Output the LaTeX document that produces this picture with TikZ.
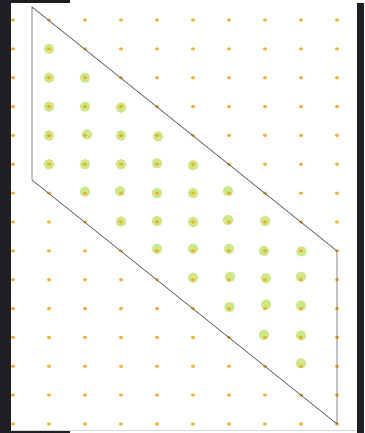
\documentclass[tikz,border=0pt]{standalone}
\usetikzlibrary{calc}
\definecolor{framedark}{RGB}{30,31,36}
\definecolor{dotorange}{RGB}{245,166,35}
\definecolor{ptgreen}{RGB}{200,230,125}
\definecolor{edgegray}{RGB}{85,85,85}
\begin{document}
\begin{tikzpicture}[x=1pt,y=-1pt,
  griddot/.style={fill=dotorange,draw=none,opacity=0.9},
  inpoint/.style={fill=ptgreen,draw=none,opacity=0.9},
  region/.style={draw=edgegray,line width=0.7pt,line join=miter},
  darkband/.style={fill=framedark,draw=none}]
\useasboundingbox (0,0) rectangle (364,433);
\fill[white] (0,0) rectangle (364,433);
% lattice points inside region
\foreach \i/\j/\dx/\dy in {
  1/1/0/0,
  1/2/0/0, 2/2/0/0,
  1/3/0/0, 2/3/0/0, 3/3/0/1,
  1/4/0/0, 2/4/2/-1, 3/4/0/0, 4/4/1/1,
  1/5/0/0, 2/5/0/0, 3/5/0/0, 4/5/0/-1, 5/5/0/1,
  2/6/0/-1.5, 3/6/-1/-2, 4/6/0/0, 5/6/0/0, 6/6/-1/-2,
  3/7/0/-0.5, 4/7/0/-1, 5/7/0/0, 6/7/-1/-2, 7/7/0/-1,
  4/8/0/-2, 5/8/0/-2, 6/8/0/-2, 7/8/-1/0, 8/8/0.5/0.5,
  5/9/0/-2, 6/9/1/-3, 7/9/1/-1.5, 8/9/0/-3,
  6/10/0.5/-1.5, 7/10/1/-4, 8/10/0/-3,
  7/11/-1/-2.5, 8/11/0/-2,
  8/12/0/-3}
  \fill[inpoint] ({13+36*\i+\dx},{20+404/14*\j+\dy}) circle (5.3);
% grid dots
\foreach \i in {0,...,9}
  \foreach \j in {0,...,14}
    \fill[griddot] ({13+36*\i},{20+404/14*\j}) ellipse (2 and 1.6);
% parallelogram
\coordinate (A) at (32,7);
\coordinate (B) at (337,251);
\coordinate (C) at (337,424);
\coordinate (D) at (32,180);
\draw[region] (A) -- (B) -- (C) -- (D) -- cycle;
% screenshot frame bands
\fill[darkband] (0,0) rectangle (11,433);
\fill[darkband] (0,0) rectangle (70,3);
\fill[darkband] (357,3) rectangle (364,433);
\fill[darkband] (0,431) rectangle (70,433);
\draw[black!15,line width=0.6pt] (11,430.5) -- (357,430.5);
\end{tikzpicture}
\end{document}
